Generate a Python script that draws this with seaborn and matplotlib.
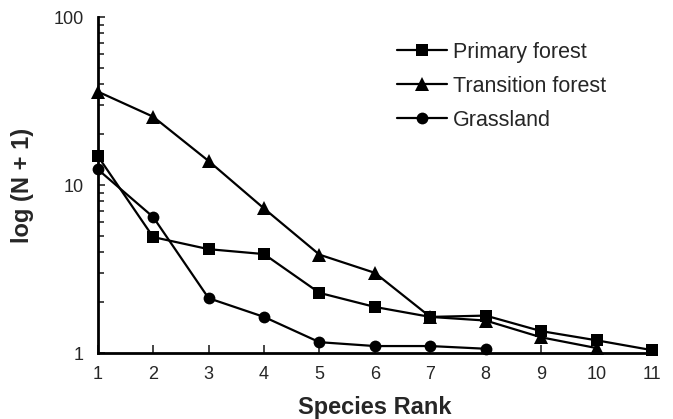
import matplotlib
matplotlib.use("Agg")
import matplotlib.pyplot as plt
import seaborn as sns
import pandas as pd
from matplotlib.ticker import LogLocator, NullFormatter, FixedLocator
from matplotlib.lines import Line2D

sns.set_style("white")
plt.rcParams['font.family'] = ['Liberation Sans', 'DejaVu Sans']

rank = list(range(1, 12))
primary = [14.9, 4.9, 4.15, 3.88, 2.28, 1.88, 1.64, 1.67, 1.35, 1.19, 1.04]
transition = [36, 25.5, 13.9, 7.25, 3.85, 3.0, 1.64, 1.56, 1.24, 1.07]
grassland = [12.4, 6.45, 2.12, 1.64, 1.16, 1.10, 1.10, 1.06]
series_names = ["Primary forest", "Transition forest", "Grassland"]
markers = ["s", "^", "o"]

rows = []
for name, vals in zip(series_names, [primary, transition, grassland]):
    for r, v in zip(rank, vals):
        rows.append({"rank": r, "value": v, "series": name})
df = pd.DataFrame(rows)

fig = plt.figure(figsize=(6.73, 4.19), dpi=100)
ax = fig.add_axes([0.1452, 0.1575, 0.9688 - 0.1452, 0.9594 - 0.1575])

for name, m in zip(series_names, markers):
    sub = df[df["series"] == name]
    sns.lineplot(data=sub, x="rank", y="value", ax=ax, color="black", lw=1.6,
                 marker=m, markersize=8.5 if m != "^" else 9.5, markeredgewidth=0,
                 markerfacecolor="black", sort=False, legend=False, clip_on=False)

ax.set_yscale("log")
ax.set_ylim(1, 100)
ax.set_xlim(1, 11)
ax.set_xticks(rank)
ax.set_xticklabels([str(r) for r in rank])
ax.yaxis.set_major_locator(FixedLocator([1, 10, 100]))
ax.set_yticklabels(["1", "10", "100"])
ax.yaxis.set_minor_locator(LogLocator(base=10, subs=range(2, 10)))
ax.yaxis.set_minor_formatter(NullFormatter())

for s in ["top", "right"]:
    ax.spines[s].set_visible(False)
for s in ["left", "bottom"]:
    ax.spines[s].set_linewidth(2)
    ax.spines[s].set_color("black")

ax.tick_params(axis="x", which="major", direction="in", length=6, width=1.2,
               labelsize=13, pad=9, bottom=True)
ax.tick_params(axis="y", which="major", direction="in", length=5, width=1.2,
               labelsize=13, pad=10, left=True)
ax.tick_params(axis="y", which="minor", direction="in", length=4.5, width=1.2, left=True)
ax.tick_params(axis="x", which="minor", bottom=False)

ax.set_xlabel("Species Rank", fontsize=17, fontweight="bold", labelpad=9.5)
ax.set_ylabel("log (N + 1)", fontsize=17, fontweight="bold", labelpad=14)

handles = [Line2D([], [], color="black", lw=1.6, marker=m,
                  markersize=8.5 if m != "^" else 9.5, markeredgewidth=0)
           for m in markers]
ax.legend(handles, series_names, loc="upper left",
          bbox_to_anchor=(397 / 673, 1 - 42 / 419), bbox_transform=fig.transFigure,
          frameon=False, fontsize=15.5, handlelength=2.3, handletextpad=0.3,
          labelspacing=0.6, borderpad=0, borderaxespad=0)

ax.set_facecolor("white")
fig.patch.set_facecolor("white")
fig.savefig("out.png", dpi=100)
